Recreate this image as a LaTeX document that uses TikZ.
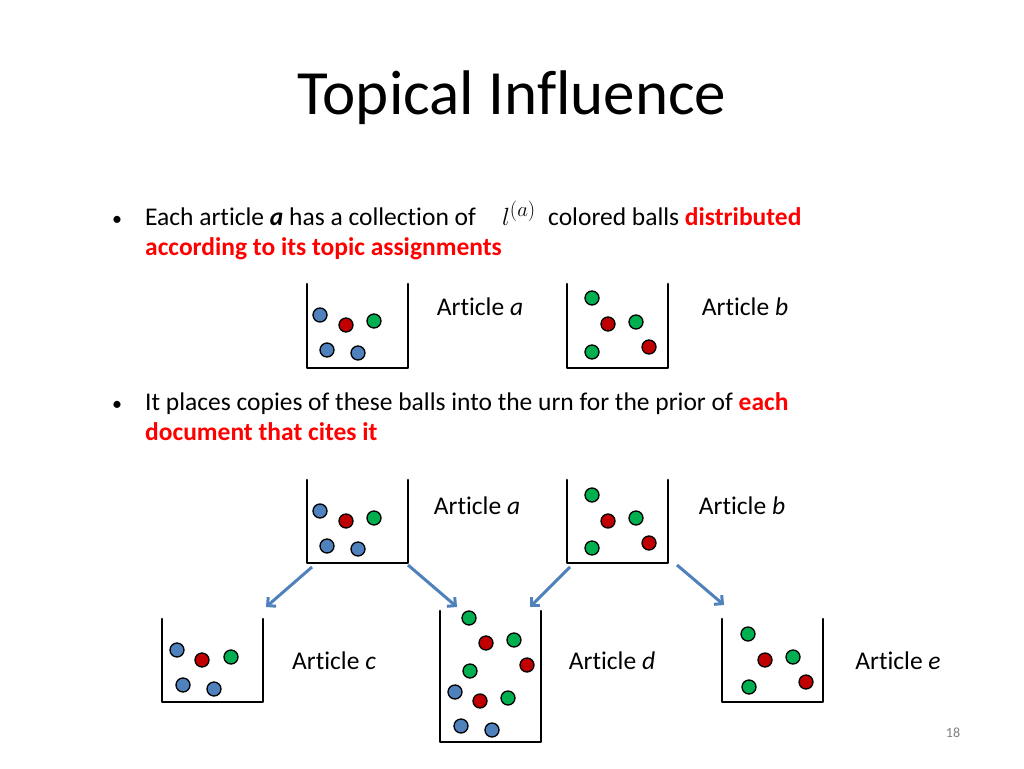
\documentclass[tikz,border=0pt]{standalone}
\usepackage{fontspec}
\setmainfont[Ligatures=NoCommon]{Carlito}
\usetikzlibrary{arrows.meta}
\definecolor{bblue}{RGB}{79,129,189}
\definecolor{bred}{RGB}{192,0,0}
\definecolor{bgreen}{RGB}{0,176,80}
\definecolor{tred}{RGB}{255,0,0}
\tikzset{
 ball/.style={circle,draw=black,line width=1.3pt,minimum size=14pt,inner sep=0pt},
 B/.style={ball,fill=bblue},R/.style={ball,fill=bred},G/.style={ball,fill=bgreen},
 urnline/.style={line width=2.6pt,line cap=round,line join=round},
 txt/.style={anchor=base west,inner sep=0pt,font=\fontsize{25.5}{30}\selectfont},
 lbl/.style={inner sep=0pt,font=\fontsize{25.5}{30}\selectfont},
 arr/.style={draw=bblue,line width=3pt,-{Straight Barb[length=6pt,width=12pt]}}
}
\newcommand{\urn}[4]{\draw[urnline] (#1,#3) -- (#1,#4) -- (#2,#4) -- (#2,#3);}
\begin{document}
\begin{tikzpicture}[x=1pt,y=-1pt]
\useasboundingbox (0,0) rectangle (1024,768);
\fill[white] (0,0) rectangle (1024,768);
\node[font=\fontsize{63}{70}\selectfont] (title) at (512,98) {Topical Influence};
\node[txt,font=\fontsize{20}{24}\selectfont] (b1) at (112,225) {•};
\node[txt] (t1) at (145,225) {Each article \textbf{\textit{a}} has a collection of};
\node[inner sep=0pt,font=\fontsize{28}{32}\selectfont] (la) at (519,213) {$l^{(a)}$};
\node[txt] (t1b) at (548,225) {colored balls \textbf{\color{tred}distributed}};
\node[txt] (t2) at (145,255) {\textbf{\color{tred}according to its topic assignments}};
\node[txt,font=\fontsize{20}{24}\selectfont] (b2) at (112,410) {•};
\node[txt] (t3) at (145,410) {It places copies of these balls into the urn for the prior of \textbf{\color{tred}each}};
\node[txt] (t4) at (145,440) {\textbf{\color{tred}document that cites it}};
% top urns
\urn{307}{408}{284}{368}
\node[B] (a1) at (320,315){};\node[R] (a2) at (346,325){};\node[G] (a3) at (374,321){};\node[B] (a4) at (327,350){};\node[B] (a5) at (358,353){};
\node[lbl] (la1) at (480,307) {Article \textit{a}};
\urn{567}{668}{284}{368}
\node[G] (b1b) at (592,298){};\node[R] at (608,324){};\node[G] at (636,322){};\node[G] at (592,352){};\node[R] at (649,347){};
\node[lbl] (lb1) at (745,307) {Article \textit{b}};
% second row
\urn{307}{408}{480}{563}
\node[B] at (320,511){};\node[R] at (346,521){};\node[G] at (374,518){};\node[B] at (327,546){};\node[B] at (358,549){};
\node[lbl] (la2) at (477,506) {Article \textit{a}};
\urn{567}{668}{480}{563}
\node[G] at (592,495){};\node[R] at (608,521){};\node[G] at (636,518){};\node[G] at (592,548){};\node[R] at (649,543){};
\node[lbl] (lb2) at (742,506) {Article \textit{b}};
% bottom
\urn{162}{263}{619}{702}
\node[B] at (177,650){};\node[R] at (202,660){};\node[G] at (231,657){};\node[B] at (183,685){};\node[B] at (214,689){};
\node[lbl] (lc) at (334,661) {Article \textit{c}};
\urn{440}{541}{611}{742}
\node[G] at (469,618){};\node[R] at (486,643){};\node[G] at (514,640){};\node[G] at (470,671){};\node[R] at (527,665){};
\node[B] at (455,692){};\node[R] at (480,701){};\node[G] at (508,698){};\node[B] at (461,726){};\node[B] at (492,730){};
\node[lbl] (ld) at (612,661) {Article \textit{d}};
\urn{722}{823}{619}{702}
\node[G] at (748,634){};\node[R] at (765,660){};\node[G] at (793,657){};\node[G] at (749,687){};\node[R] at (806,682){};
\node[lbl] (le) at (898,661) {Article \textit{e}};
% arrows
\coordinate (s1) at (312,567);\coordinate (e1) at (266,607);
\coordinate (s2) at (408,565);\coordinate (e2) at (457,607);
\coordinate (s3) at (570,567);\coordinate (e3) at (530,607);
\coordinate (s4) at (677,565);\coordinate (e4) at (724,605);
\draw[arr] (s1)--(e1);\draw[arr] (s2)--(e2);\draw[arr] (s3)--(e3);\draw[arr] (s4)--(e4);
\node[text=gray,font=\fontsize{14}{16}\selectfont] (pg) at (953,733) {18};
\end{tikzpicture}
\end{document}
